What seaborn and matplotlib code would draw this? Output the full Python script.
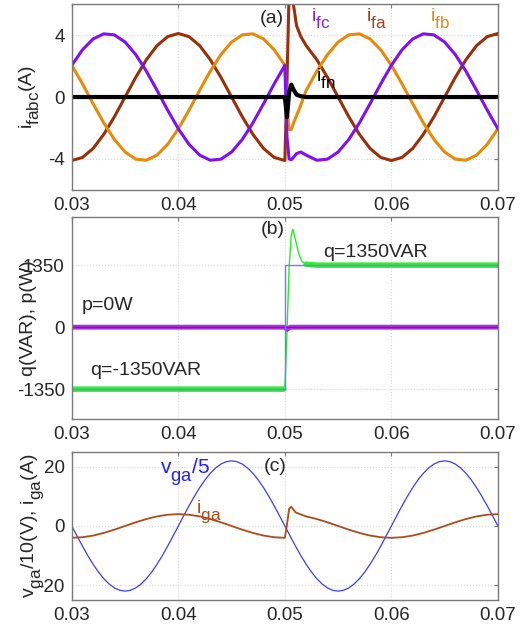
import numpy as np
import pandas as pd
import matplotlib
matplotlib.use("Agg")
import matplotlib.pyplot as plt
import seaborn as sns

# bigger, lower subscripts like the original figure
try:
    import matplotlib._mathtext as _mt
    _mt.SHRINK_FACTOR = 0.88
    _mt.FontConstantsBase.sub1 = 0.75
    _mt.FontConstantsBase.sub2 = 0.75
except Exception:
    pass

# ---- panel (a): filter currents ----
t_a = [0.030, 0.031, 0.032, 0.033, 0.034, 0.035, 0.036, 0.037, 0.038, 0.039,
       0.040, 0.041, 0.042, 0.043, 0.044, 0.045, 0.046, 0.047, 0.048, 0.049,
       0.050, 0.0502, 0.0504, 0.0506, 0.0508, 0.0511, 0.0515,
       0.052, 0.053, 0.054, 0.055, 0.056, 0.057, 0.058, 0.059, 0.060, 0.061,
       0.062, 0.063, 0.064, 0.065, 0.066, 0.067, 0.068, 0.069, 0.070]
i_fa = [-4.10, -3.90, -3.32, -2.41, -1.27, 0.0, 1.27, 2.41, 3.32, 3.90,
        4.10, 3.90, 3.32, 2.41, 1.27, 0.0, -1.27, -2.41, -3.32, -3.90,
        -4.10, 1.0, 6.8, 7.0, 6.0, 4.6, 3.9,
        3.32, 2.41, 1.27, 0.0, -1.27, -2.41, -3.32, -3.90, -4.10, -3.90,
        -3.32, -2.41, -1.27, 0.0, 1.27, 2.41, 3.32, 3.90, 4.10]
i_fb = [2.05, 0.85, -0.43, -1.67, -2.74, -3.55, -4.01, -4.08, -3.75, -3.05,
        -2.05, -0.85, 0.43, 1.67, 2.74, 3.55, 4.01, 4.08, 3.75, 3.05,
        2.05, -0.8, -2.1, -2.1, -1.7, -1.2, -0.5,
        0.43, 1.67, 2.74, 3.55, 4.01, 4.08, 3.75, 3.05, 2.05, 0.85,
        -0.43, -1.67, -2.74, -3.55, -4.01, -4.08, -3.75, -3.05, -2.05]
i_fc = [2.05, 3.05, 3.75, 4.08, 4.01, 3.55, 2.74, 1.67, 0.43, -0.85,
        -2.05, -3.05, -3.75, -4.08, -4.01, -3.55, -2.74, -1.67, -0.43, 0.85,
        2.05, -2.6, -4.0, -4.05, -3.9, -3.65, -3.55,
        -3.75, -4.08, -4.01, -3.55, -2.74, -1.67, -0.43, 0.85, 2.05, 3.05,
        3.75, 4.08, 4.01, 3.55, 2.74, 1.67, 0.43, -0.85, -2.05]
i_fn = [0.0] * 20 + [0.0, -1.3, 0.3, 0.8, 0.5, 0.15, 0.05] + [0.0] * 19

# ---- panel (b): powers ----
t_b = [0.030, 0.0499, 0.050, 0.0502, 0.0504, 0.0506, 0.05075, 0.0510, 0.0513,
       0.0516, 0.052, 0.053, 0.070]
q_meas = [-1350, -1350, -1350, -100, 1300, 2000, 2130, 1900, 1600,
          1430, 1370, 1350, 1350]
t_ref = [0.030, 0.050, 0.050, 0.070]
q_ref = [-1350, -1350, 1350, 1350]
t_p = [0.030, 0.050, 0.0502, 0.0505, 0.070]
p_meas = [0, 0, -50, 0, 0]
p_ref = [0, 0, 0, 0, 0]

# ---- panel (c): grid voltage and current ----
t_v = [round(0.030 + 0.0005 * k, 4) for k in range(81)]
v_ga = [0, -3.44, -6.80, -9.99, -12.94, -15.56, -17.80, -19.60, -20.92, -21.73,
        -22, -21.73, -20.92, -19.60, -17.80, -15.56, -12.94, -9.99, -6.80, -3.44,
        0, 3.44, 6.80, 9.99, 12.94, 15.56, 17.80, 19.60, 20.92, 21.73,
        22, 21.73, 20.92, 19.60, 17.80, 15.56, 12.94, 9.99, 6.80, 3.44,
        0, -3.44, -6.80, -9.99, -12.94, -15.56, -17.80, -19.60, -20.92, -21.73,
        -22, -21.73, -20.92, -19.60, -17.80, -15.56, -12.94, -9.99, -6.80, -3.44,
        0, 3.44, 6.80, 9.99, 12.94, 15.56, 17.80, 19.60, 20.92, 21.73,
        22, 21.73, 20.92, 19.60, 17.80, 15.56, 12.94, 9.99, 6.80, 3.44, 0]
t_i = [0.030, 0.031, 0.032, 0.033, 0.034, 0.035, 0.036, 0.037, 0.038, 0.039,
       0.040, 0.041, 0.042, 0.043, 0.044, 0.045, 0.046, 0.047, 0.048, 0.049,
       0.050, 0.0502, 0.0504, 0.0506, 0.0508, 0.0510, 0.0515,
       0.052, 0.053, 0.054, 0.055, 0.056, 0.057, 0.058, 0.059, 0.060, 0.061,
       0.062, 0.063, 0.064, 0.065, 0.066, 0.067, 0.068, 0.069, 0.070]
i_ga = [-4.0, -3.80, -3.24, -2.35, -1.24, 0.0, 1.24, 2.35, 3.24, 3.80,
        4.0, 3.80, 3.24, 2.35, 1.24, 0.0, -1.24, -2.35, -3.24, -3.80,
        -4.0, 0.5, 5.8, 6.5, 5.6, 4.6, 3.9,
        3.24, 2.35, 1.24, 0.0, -1.24, -2.35, -3.24, -3.80, -4.0, -3.80,
        -3.24, -2.35, -1.24, 0.0, 1.24, 2.35, 3.24, 3.80, 4.0]

x_ticks = [0.03, 0.04, 0.05, 0.06, 0.07]

sns.set_style("white")
plt.rcParams['font.family'] = ['Liberation Sans', 'DejaVu Sans']
plt.rcParams['mathtext.fontset'] = 'custom'
plt.rcParams['mathtext.rm'] = 'Liberation Sans'
plt.rcParams['mathtext.it'] = 'Liberation Sans'
plt.rcParams['mathtext.default'] = 'regular'
plt.rcParams['axes.unicode_minus'] = False

fig = plt.figure(figsize=(5.28, 6.28), dpi=100)
ax_a = fig.add_axes([0.136, 0.6975, 0.807, 0.296])
ax_b = fig.add_axes([0.136, 0.3328, 0.807, 0.3217])
ax_c = fig.add_axes([0.136, 0.0446, 0.807, 0.2357])


def style_axes(ax, yticks, ylabels):
    ax.set_xlim(0.03, 0.07)
    ax.set_xticks(x_ticks)
    ax.set_xticklabels(['0.03', '0.04', '0.05', '0.06', '0.07'])
    ax.set_yticks(yticks)
    ax.set_yticklabels(ylabels)
    ax.grid(True, color='#d8d8d8', linestyle=':', linewidth=0.8)
    ax.tick_params(direction='in', length=3, color='#777777', labelsize=13.5,
                   top=True, right=True, pad=5)
    for s in ax.spines.values():
        s.set_color('#7a7a7a')
        s.set_linewidth(1.0)
    ax.set_xlabel('')


# (a)
for y, c, lw in [(i_fa, '#9a2f0a', 2.2), (i_fb, '#e88a08', 2.2),
                 (i_fc, '#7f10f5', 2.2), (i_fn, 'black', 3.0)]:
    sns.lineplot(x=t_a, y=y, ax=ax_a, color=c, linewidth=lw,
                 estimator=None, sort=False)
ax_a.set_ylim(-6, 6)
style_axes(ax_a, [-4, 0, 4], ['-4', '0', '4'])
ax_a.set_ylabel(r'$i_{fabc}$(A)', fontsize=14)
ax_a.yaxis.set_label_coords(-0.07, 0.5)
ax_a.text(0.0488, 5.1, '(a)', fontsize=14, ha='center', va='center')
ax_a.text(0.0525, 4.9, r'$i_{fc}$', fontsize=14, color='#8020f0')
ax_a.text(0.0576, 4.9, r'$i_{fa}$', fontsize=14, color='#a0451c')
ax_a.text(0.0636, 4.9, r'$i_{fb}$', fontsize=14, color='#e88a08')
ax_a.text(0.0529, 1.0, r'$i_{fn}$', fontsize=14, color='black')

# (b)
t_b_arr = np.array(t_b)
q_band = np.where((t_b_arr < 0.04995) | (t_b_arr > 0.0518), q_meas, np.nan)
sns.lineplot(x=t_b, y=q_meas, ax=ax_b, color='#22ee22', linewidth=1.0,
             estimator=None, sort=False)
ax_b.plot(t_b, q_band, color='#33ee33', linewidth=4.0)
sns.lineplot(x=t_p, y=p_meas, ax=ax_b, color='#9933ff', linewidth=3.5,
             estimator=None, sort=False)
sns.lineplot(x=t_p, y=p_ref, ax=ax_b, color='#dd0022', linewidth=1.0,
             estimator=None, sort=False)
sns.lineplot(x=t_ref, y=q_ref, ax=ax_b, color='#7777ff', linewidth=1.0,
             estimator=None, sort=False)
ax_b.set_ylim(-2000, 2400)
style_axes(ax_b, [-1350, 0, 1350], ['-1350', '0', '1350'])
ax_b.set_ylabel('q(VAR), p(W)', fontsize=14)
ax_b.yaxis.set_label_coords(-0.082, 0.5)
ax_b.text(0.0489, 2134, '(b)', fontsize=14, ha='center', va='center')
ax_b.text(0.0536, 1524, 'q=1350VAR', fontsize=14)
ax_b.text(0.0309, 370, 'p=0W', fontsize=14)
ax_b.text(0.0317, -1045, 'q=-1350VAR', fontsize=14)

# (c)
sns.lineplot(x=t_v, y=v_ga, ax=ax_c, color='#3c3cff', linewidth=0.9,
             estimator=None, sort=False)
sns.lineplot(x=t_i, y=i_ga, ax=ax_c, color='#b04a1a', linewidth=1.3,
             estimator=None, sort=False)
ax_c.set_ylim(-25, 25)
style_axes(ax_c, [-20, 0, 20], ['-20', '0', '20'])
ax_c.set_ylabel(r'$v_{ga}$/10(V), $i_{ga}$(A)', fontsize=14)
ax_c.yaxis.set_label_coords(-0.06, 0.5)
ax_c.text(0.04906, 20.2, '(c)', fontsize=14, ha='center', va='center')
ax_c.text(0.03826, 17.5, r'$v_{ga}$/5', fontsize=15, color='#2020ff')
ax_c.text(0.04164, 4.4, r'$i_{ga}$', fontsize=14, color='#b04a1a')

fig.savefig('out.png', dpi=100)
